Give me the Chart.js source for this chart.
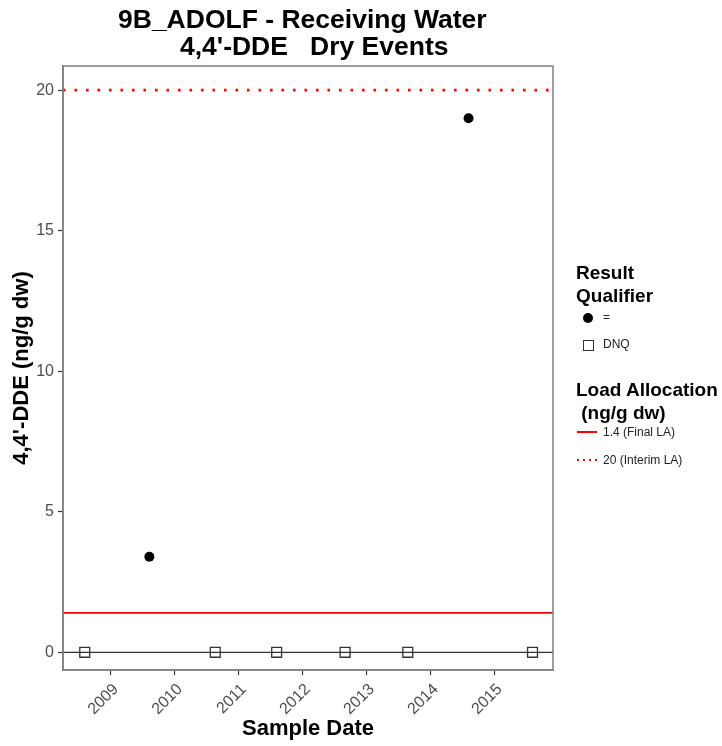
<!DOCTYPE html>
<html>
<head>
<meta charset="utf-8">
<script src="https://cdn.jsdelivr.net/npm/chart.js@4/dist/chart.umd.min.js"></script>
<style>
  html, body { margin: 0; padding: 0; background: #fff; }
  #wrap { position: relative; width: 722px; height: 746px; font-family: "Liberation Sans", Arial, sans-serif; }
  #chart { position: absolute; left: 0; top: 0; }
  .title { position: absolute; font-weight: bold; font-size: 26.5px; color: #000; white-space: pre; line-height: 26px; }
  .lg { position: absolute; color: #000; }
  .lgHead { font-weight: bold; font-size: 19px; line-height: 23px; white-space: pre; }
  .lgItem { font-size: 12px; color: #222; }
  .dots { height: 2px; background-image: repeating-linear-gradient(to right, #ff0000 0 2px, transparent 2px 6px); }
</style>
</head>
<body>
<div id="wrap">
  <canvas id="chart" width="722" height="746"></canvas>
  <div class="title" style="left:118px; top:6px;">9B_ADOLF - Receiving Water</div>
  <div class="title" style="left:180px; top:33px;">4,4'-DDE   Dry Events</div>

  <div class="lg lgHead" style="left:576px; top:261px;">Result
Qualifier</div>
  <div class="lg" style="left:583px; top:313px; width:10px; height:10px; border-radius:50%; background:#000;"></div>
  <div class="lg lgItem" style="left:603px; top:310px;">=</div>
  <div class="lg" style="left:583px; top:340px; width:9px; height:9px; border:1px solid #333;"></div>
  <div class="lg lgItem" style="left:603px; top:337px;">DNQ</div>

  <div class="lg lgHead" style="left:576px; top:378px;">Load Allocation
 (ng/g dw)</div>
  <div class="lg" style="left:577px; top:431px; width:20px; height:2px; background:#ff0000;"></div>
  <div class="lg lgItem" style="left:603px; top:425px;">1.4 (Final LA)</div>
  <div class="lg dots" style="left:577px; top:459px; width:20px;"></div>
  <div class="lg lgItem" style="left:603px; top:453px;">20 (Interim LA)</div>
</div>
<script>
// sample dates as decimal years
const eqDates = [2009.60, 2014.59];
const eqValues = [3.4, 19.0];
const dnqDates = [2008.59, 2010.63, 2011.59, 2012.66, 2013.64, 2015.59];
const dnqValues = [0, 0, 0, 0, 0, 0];
const finalLA = 1.4;
const interimLA = 20;
const yearTicks = [2009, 2010, 2011, 2012, 2013, 2014, 2015];
const yTicks = [0, 5, 10, 15, 20];
const xMin = 2008.25, xMax = 2015.91;
const yMin = -0.63, yMax = 20.86;

function hline(v) {
    return [{ x: xMin, y: v }, { x: xMax, y: v }];
}

const frame = {
    id: "frame",
    afterDatasetsDraw(chart) {
        const a = chart.chartArea;
        const ctx = chart.ctx;
        ctx.save();
        ctx.strokeStyle = "#7f7f7f";
        ctx.lineWidth = 1.5;
        ctx.strokeRect(a.left, a.top, a.right - a.left, a.bottom - a.top);
        ctx.restore();
    }
};

new Chart(document.getElementById("chart"), {
    type: "scatter",
    data: {
        datasets: [
            {
                label: "zero",
                type: "line",
                data: hline(0),
                borderColor: "#333",
                borderWidth: 1.2,
                pointRadius: 0,
                order: 5
            },
            {
                label: "1.4 (Final LA)",
                type: "line",
                data: hline(finalLA),
                borderColor: "#ff0000",
                borderWidth: 1.8,
                pointRadius: 0,
                order: 4
            },
            {
                label: "20 (Interim LA)",
                type: "line",
                data: hline(interimLA),
                borderColor: "#ff0000",
                borderWidth: 2.6,
                borderDash: [2.6, 8.9],
                pointRadius: 0,
                order: 3
            },
            {
                label: "DNQ",
                data: dnqDates.map((d, i) => ({ x: d, y: dnqValues[i] })),
                pointStyle: "rect",
                pointRadius: 7,
                pointBackgroundColor: "rgba(255,255,255,0)",
                pointBorderColor: "#333",
                pointBorderWidth: 1.3,
                order: 2
            },
            {
                label: "=",
                data: eqDates.map((d, i) => ({ x: d, y: eqValues[i] })),
                pointStyle: "circle",
                pointRadius: 5,
                pointBackgroundColor: "#000",
                pointBorderColor: "#000",
                pointBorderWidth: 0,
                order: 1
            }
        ]
    },
    options: {
        responsive: false,
        animation: false,
        layout: { padding: { top: 66, right: 169, left: 0, bottom: 0 } },
        plugins: {
            legend: { display: false },
            tooltip: { enabled: false }
        },
        scales: {
            x: {
                type: "linear",
                min: xMin,
                max: xMax,
                afterBuildTicks: s => { s.ticks = yearTicks.map(v => ({ value: v })); },
                afterFit: s => { s.height = 76; },
                ticks: {
                    callback: v => String(v),
                    maxRotation: 45,
                    minRotation: 45,
                    color: "#4d4d4d",
                    font: { family: "Liberation Sans", size: 16 },
                    padding: 5,
                    labelOffset: 5
                },
                grid: { drawOnChartArea: false, tickLength: 5, color: "#333", tickWidth: 1.2 },
                border: { display: true, color: "#7f7f7f", width: 1.5 },
                title: {
                    display: true,
                    text: "Sample Date",
                    color: "#000",
                    font: { family: "Liberation Sans", size: 22, weight: "bold" },
                    padding: { top: 0, bottom: 4 }
                }
            },
            y: {
                min: yMin,
                max: yMax,
                afterBuildTicks: s => { s.ticks = yTicks.map(v => ({ value: v })); },
                afterFit: s => { s.width = 63; },
                ticks: {
                    color: "#4d4d4d",
                    font: { family: "Liberation Sans", size: 16 },
                    padding: 4
                },
                grid: { drawOnChartArea: false, tickLength: 5, color: "#333", tickWidth: 1.2 },
                border: { display: true, color: "#7f7f7f", width: 1.5 },
                title: {
                    display: true,
                    text: "4,4'-DDE (ng/g dw)",
                    color: "#000",
                    font: { family: "Liberation Sans", size: 22, weight: "bold" },
                    padding: { top: 9, bottom: 0 }
                }
            }
        }
    },
    plugins: [frame]
});
</script>
</body>
</html>
